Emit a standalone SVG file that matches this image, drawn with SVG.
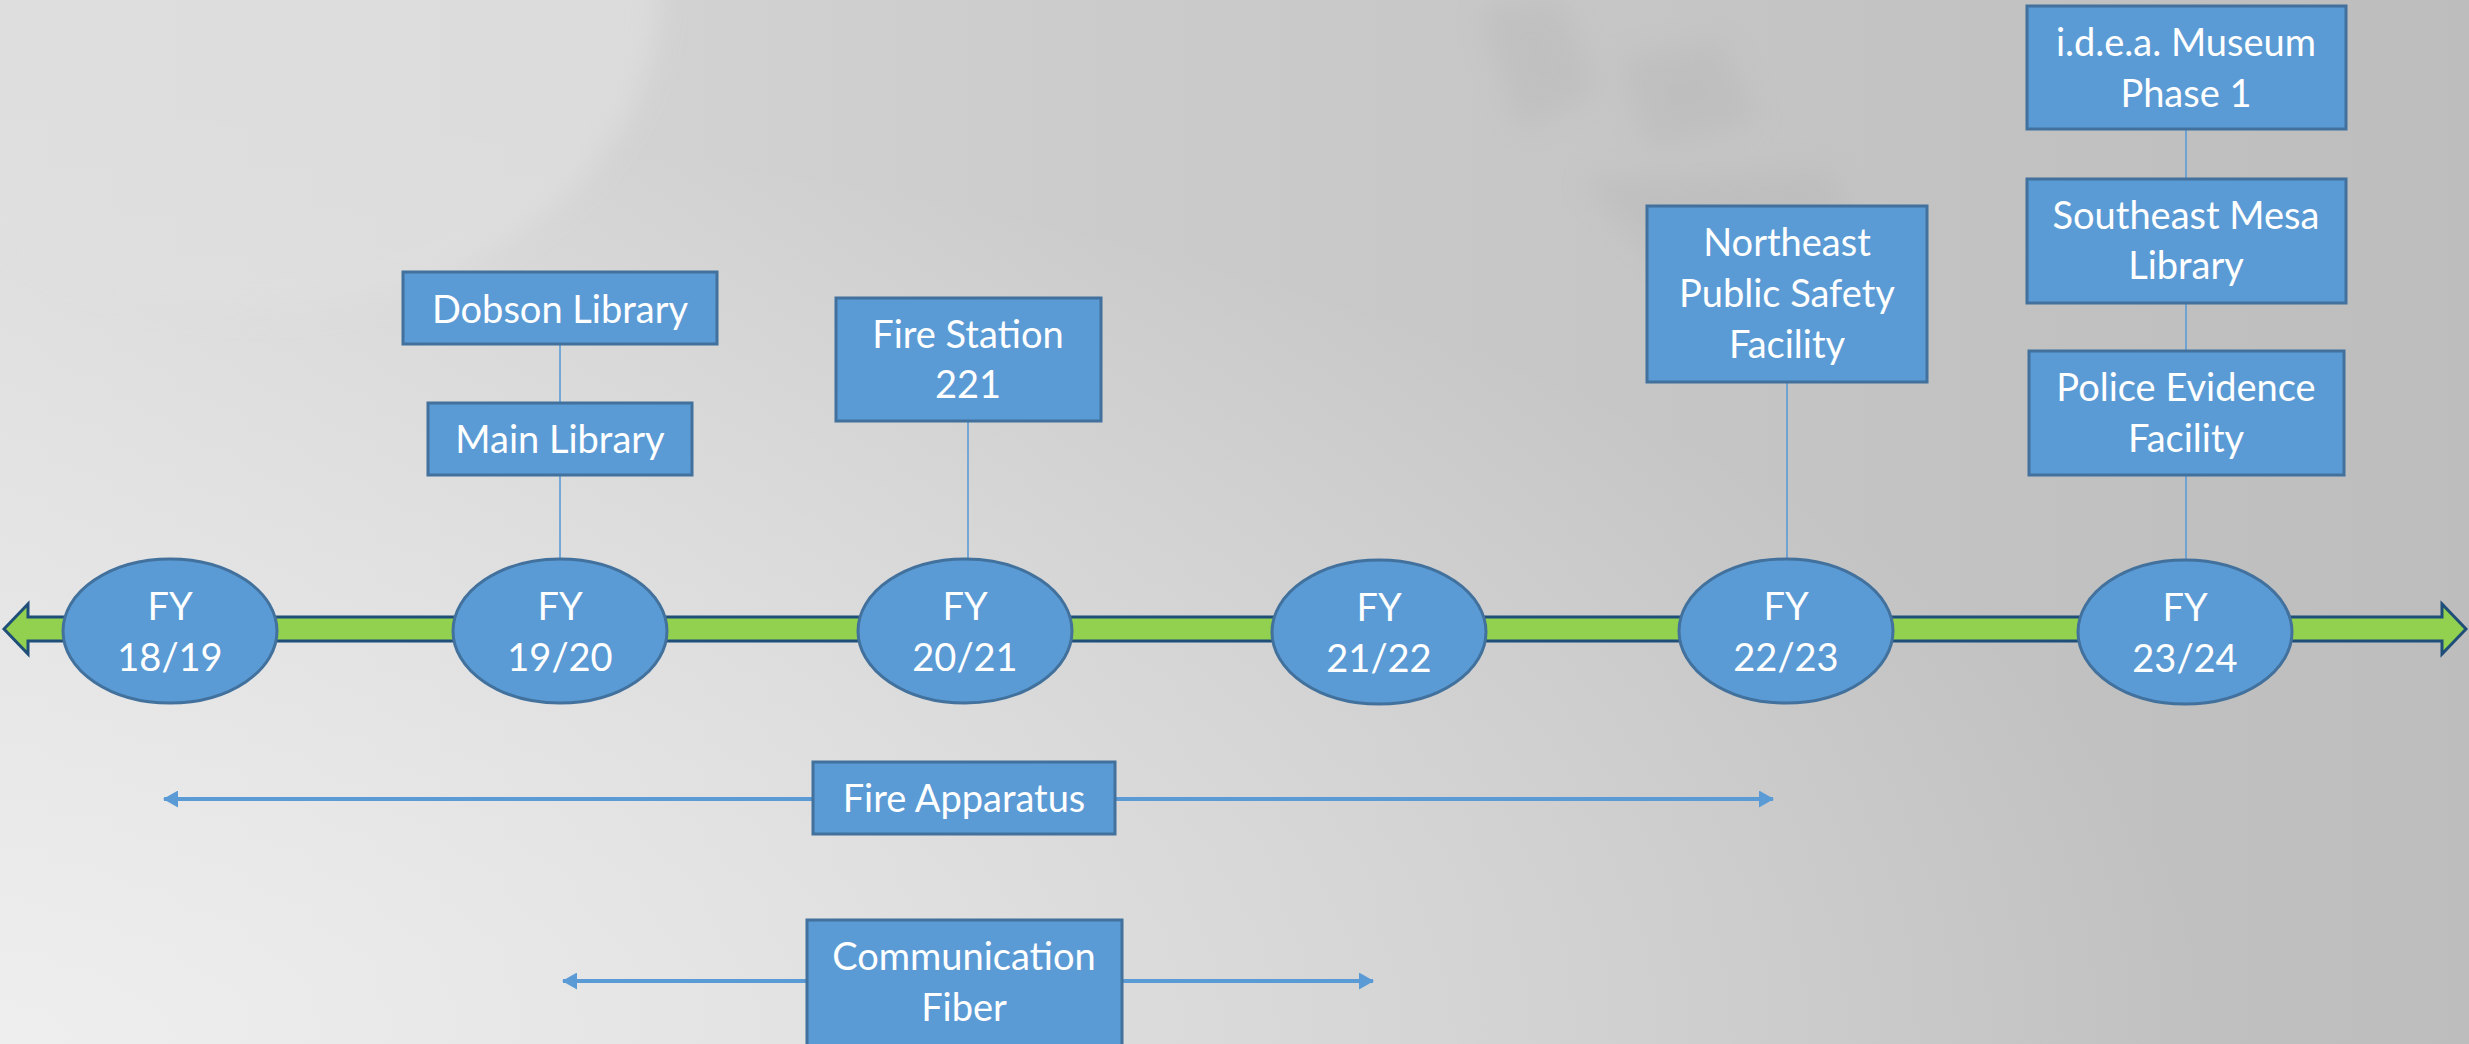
<svg xmlns="http://www.w3.org/2000/svg" width="2469" height="1044" viewBox="0 0 2469 1044">
  <defs>
    <linearGradient id="bg" x1="0" y1="0" x2="1" y2="0">
      <stop offset="0" stop-color="#dcdcdc"/>
      <stop offset="0.45" stop-color="#cbcbcb"/>
      <stop offset="1" stop-color="#bdbdbd"/>
    </linearGradient>
    <radialGradient id="glow" cx="0" cy="1" r="0.9">
      <stop offset="0" stop-color="#f0f0f0" stop-opacity="0.9"/>
      <stop offset="1" stop-color="#f0f0f0" stop-opacity="0"/>
    </radialGradient>
    <filter id="blur" x="-20%" y="-20%" width="140%" height="140%">
      <feGaussianBlur stdDeviation="14"/>
    </filter>
    <marker id="ah" viewBox="0 0 15 17" refX="14" refY="8.5" markerWidth="15" markerHeight="17" markerUnits="userSpaceOnUse" orient="auto-start-reverse">
      <path d="M0,0 L15,8.5 L0,17 Z" fill="#5b9bd5"/>
    </marker>
  </defs>
  <style>
    .box { fill: #5b9bd5; stroke: #41719c; stroke-width: 3; }
    .yr { fill: #5b9bd5; stroke: #41719c; stroke-width: 3; }
    .lbl { font-family: Lato, "Open Sans", sans-serif; font-size: 38px; fill: #ffffff; text-anchor: middle; }
    .tick { stroke: #5b9bd5; stroke-width: 1.6; fill: none; }
    .range { stroke: #5b9bd5; stroke-width: 4; fill: none; marker-start: url(#ah); marker-end: url(#ah); }
  </style>

  <g id="background">
    <rect x="0" y="0" width="2469" height="1044" fill="url(#bg)"/>
    <rect x="0" y="0" width="2469" height="1044" fill="url(#glow)"/>
    <ellipse cx="260" cy="-10" rx="400" ry="320" fill="#e0e0e0" opacity="0.7" filter="url(#blur)"/>
    <path d="M1480,10 L1560,0 L1600,90 L1520,130 Z M1620,60 L1720,40 L1760,120 L1650,150 Z M1580,180 L1830,170 L1860,260 L1700,300 Z" fill="#adadad" opacity="0.25" filter="url(#blur)"/>
  </g>

  <g id="timeline">
    <path d="M4,629 L28,604 L28,617 L2442,617 L2442,604 L2466,629 L2442,654 L2442,641 L28,641 L28,654 Z" fill="#92d050" stroke="#1f4e79" stroke-width="3" stroke-linejoin="miter"/>
  </g>

  <g id="connectors">
    <line class="tick" x1="560" y1="344" x2="560" y2="403"/>
    <line class="tick" x1="560" y1="475" x2="560" y2="560"/>
    <line class="tick" x1="968" y1="421" x2="968" y2="560"/>
    <line class="tick" x1="1787" y1="382" x2="1787" y2="559"/>
    <line class="tick" x1="2186" y1="129" x2="2186" y2="179"/>
    <line class="tick" x1="2186" y1="303" x2="2186" y2="351"/>
    <line class="tick" x1="2186" y1="475" x2="2186" y2="561"/>
    <line class="range" x1="164" y1="799" x2="1773" y2="799"/>
    <line class="range" x1="563" y1="981" x2="1373" y2="981"/>
  </g>

  <g id="fy1819">
    <ellipse class="yr" cx="170" cy="631" rx="107" ry="72"/>
    <text class="lbl" x="170" y="620">FY</text>
    <text class="lbl" x="170" y="671">18/19</text>
  </g>
  <g id="fy1920">
    <ellipse class="yr" cx="560" cy="631" rx="107" ry="72"/>
    <text class="lbl" x="560" y="620">FY</text>
    <text class="lbl" x="560" y="671">19/20</text>
  </g>
  <g id="fy2021">
    <ellipse class="yr" cx="965" cy="631" rx="107" ry="72"/>
    <text class="lbl" x="965" y="620">FY</text>
    <text class="lbl" x="965" y="671">20/21</text>
  </g>
  <g id="fy2122">
    <ellipse class="yr" cx="1379" cy="632" rx="107" ry="72"/>
    <text class="lbl" x="1379" y="621">FY</text>
    <text class="lbl" x="1379" y="672">21/22</text>
  </g>
  <g id="fy2223">
    <ellipse class="yr" cx="1786" cy="631" rx="107" ry="72"/>
    <text class="lbl" x="1786" y="620">FY</text>
    <text class="lbl" x="1786" y="671">22/23</text>
  </g>
  <g id="fy2324">
    <ellipse class="yr" cx="2185" cy="632" rx="107" ry="72"/>
    <text class="lbl" x="2185" y="621">FY</text>
    <text class="lbl" x="2185" y="672">23/24</text>
  </g>

  <g id="dobson-library">
    <rect class="box" x="403" y="272" width="314" height="72"/>
    <text class="lbl" x="560" y="323">Dobson Library</text>
  </g>
  <g id="main-library">
    <rect class="box" x="428" y="403" width="264" height="72"/>
    <text class="lbl" x="560" y="453">Main Library</text>
  </g>
  <g id="fire-station-221">
    <rect class="box" x="836" y="298" width="265" height="123"/>
    <text class="lbl" x="968" y="348">Fire Station</text>
    <text class="lbl" x="968" y="398">221</text>
  </g>
  <g id="northeast-psf">
    <rect class="box" x="1647" y="206" width="280" height="176"/>
    <text class="lbl" x="1787" y="256">Northeast</text>
    <text class="lbl" x="1787" y="307">Public Safety</text>
    <text class="lbl" x="1787" y="358">Facility</text>
  </g>
  <g id="idea-museum">
    <rect class="box" x="2027" y="6" width="319" height="123"/>
    <text class="lbl" x="2186" y="56">i.d.e.a. Museum</text>
    <text class="lbl" x="2186" y="107">Phase 1</text>
  </g>
  <g id="southeast-mesa-library">
    <rect class="box" x="2027" y="179" width="319" height="124"/>
    <text class="lbl" x="2186" y="229">Southeast Mesa</text>
    <text class="lbl" x="2186" y="279">Library</text>
  </g>
  <g id="police-evidence">
    <rect class="box" x="2029" y="351" width="315" height="124"/>
    <text class="lbl" x="2186" y="401">Police Evidence</text>
    <text class="lbl" x="2186" y="452">Facility</text>
  </g>
  <g id="fire-apparatus">
    <rect class="box" x="813" y="762" width="302" height="72"/>
    <text class="lbl" x="964" y="812">Fire Apparatus</text>
  </g>
  <g id="communication-fiber">
    <rect class="box" x="807" y="920" width="315" height="126"/>
    <text class="lbl" x="964" y="970">Communication</text>
    <text class="lbl" x="964" y="1021">Fiber</text>
  </g>
</svg>
